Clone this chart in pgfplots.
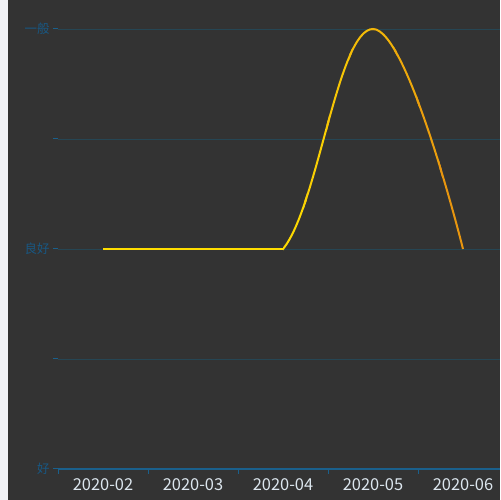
\documentclass[border=0pt]{standalone}
\usepackage{fontspec}
\setmainfont{Noto Sans CJK SC}
\usepackage{pgfplots}
\pgfplotsset{compat=1.18}
\usepackage{pgfplotstable}
\definecolor{bgdark}{RGB}{51,51,51}
\definecolor{bgleft}{RGB}{242,243,247}
\definecolor{gridc}{RGB}{38,70,84}
\definecolor{axisblue}{RGB}{26,96,140}
\definecolor{ylab}{RGB}{24,88,132}
\definecolor{xlab}{RGB}{220,230,238}
\definecolor{cStart}{RGB}{255,222,0}
\definecolor{cEnd}{RGB}{230,145,16}
\pgfplotstableread{
x y
0 2
1 2
2 2
}\flat
\pgfplotstableread{
x y
1 2
2 2
3 4
4 2
}\curve
\begin{document}
\begin{tikzpicture}[x=1bp,y=1bp]
\useasboundingbox (0,0) rectangle (500,500);
\fill[bgleft] (0,0) rectangle (8,500);
\fill[bgdark] (8,0) rectangle (500,500);
\begin{axis}[
  at={(58bp,31bp)}, anchor=south west,
  scale only axis, width=442bp, height=462bp,
  xmin=-0.5, xmax=4.411, ymin=0, ymax=4.2,
  xtick={0,1,2,3,4},
  xticklabels={2020-02,2020-03,2020-04,2020-05,2020-06},
  minor xtick={-0.5,0.5,1.5,2.5,3.5},
  ytick={0,1,2,3,4},
  yticklabels={好,,良好,,一般},
  tick align=outside,
  major tick length=5bp, minor tick length=5bp,
  major x tick style={draw=none},
  minor x tick style={axisblue, line width=1bp},
  y tick style={axisblue, line width=1bp},
  ymajorgrids, grid style={gridc, line width=0.8bp},
  axis x line*=bottom, axis y line*=left,
  y axis line style={draw=none},
  x axis line style={axisblue, line width=2bp, -},
  /pgf/number format/assume math mode=true,
  yticklabel style={font=\fontsize{12.5}{12.5}\selectfont, color=ylab},
  xticklabel style={font=\fontsize{16.5}{16.5}\selectfont, color=xlab, yshift=-1bp},
]
\addplot[cStart, line width=2bp] table {\flat};
\pgfplotsinvokeforeach{6.25,18.75,31.25,43.75,56.25,68.75,81.25,93.75}{
  \begin{scope}
  \clip (axis cs:{max(2,2+#1/50-0.14)},-1) rectangle (axis cs:{2+#1/50+0.14},6);
  \addplot[color=cEnd!#1!cStart, line width=2bp, smooth, tension=0.7] table {\curve};
  \end{scope}
}
\end{axis}
\end{tikzpicture}
\end{document}
